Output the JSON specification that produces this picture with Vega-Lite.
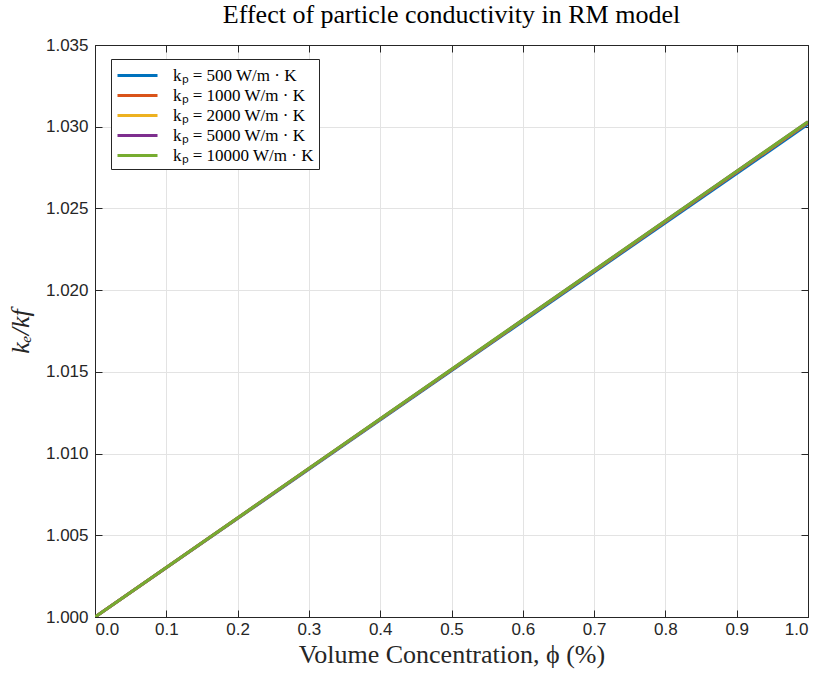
{
  "$schema": "https://vega.github.io/schema/vega-lite/v6.json",
  "width": 713,
  "height": 572,
  "autosize": {"type": "none"},
  "padding": {"left": 95, "top": 45, "right": 14, "bottom": 65},
  "background": "white",
  "title": {"text": "Effect of particle conductivity in RM model", "font": "Liberation Serif", "fontSize": 26, "fontWeight": "normal", "color": "#000000", "offset": 8, "anchor": "middle"},
  "config": {
    "view": {"stroke": "#262626", "strokeWidth": 1},
    "axis": {"labelFont": "Liberation Sans", "labelFontSize": 17, "labelColor": "#262626", "gridColor": "#e3e3e3", "gridWidth": 1, "domainColor": "#262626", "tickColor": "#262626", "tickSize": -7, "titleFont": "Liberation Serif", "titleFontWeight": "normal", "titleColor": "#262626", "titleFontSize": 26}
  },
  "data": {"values": [
    {"phi": 0, "ratio": 1.0, "series": "k\u209a = 500 W/m \u00b7 K"},
    {"phi": 1, "ratio": 1.03015, "series": "k\u209a = 500 W/m \u00b7 K"},
    {"phi": 0, "ratio": 1.0, "series": "k\u209a = 1000 W/m \u00b7 K"},
    {"phi": 1, "ratio": 1.03024, "series": "k\u209a = 1000 W/m \u00b7 K"},
    {"phi": 0, "ratio": 1.0, "series": "k\u209a = 2000 W/m \u00b7 K"},
    {"phi": 1, "ratio": 1.03028, "series": "k\u209a = 2000 W/m \u00b7 K"},
    {"phi": 0, "ratio": 1.0, "series": "k\u209a = 5000 W/m \u00b7 K"},
    {"phi": 1, "ratio": 1.0303, "series": "k\u209a = 5000 W/m \u00b7 K"},
    {"phi": 0, "ratio": 1.0, "series": "k\u209a = 10000 W/m \u00b7 K"},
    {"phi": 1, "ratio": 1.03031, "series": "k\u209a = 10000 W/m \u00b7 K"}
  ]},
  "layer": [
    {
      "mark": {"type": "line", "strokeWidth": 3, "clip": true},
      "encoding": {
        "x": {"field": "phi", "type": "quantitative", "scale": {"domain": [0, 1], "nice": false, "zero": false},
              "axis": {"values": [0, 0.1, 0.2, 0.3, 0.4, 0.5, 0.6, 0.7, 0.8, 0.9, 1.0], "format": ".1f", "title": "Volume Concentration, \u03d5 (%)", "titlePadding": 4, "labelPadding": 11}},
        "y": {"field": "ratio", "type": "quantitative", "scale": {"domain": [1.0, 1.035], "nice": false, "zero": false},
              "axis": {"values": [1.0, 1.005, 1.01, 1.015, 1.02, 1.025, 1.03, 1.035], "format": ".3f", "title": "k\u2091/kf", "titleFontStyle": "italic", "titlePadding": 12, "labelPadding": 14}},
        "color": {"field": "series", "type": "nominal",
                  "sort": ["k\u209a = 500 W/m \u00b7 K", "k\u209a = 1000 W/m \u00b7 K", "k\u209a = 2000 W/m \u00b7 K", "k\u209a = 5000 W/m \u00b7 K", "k\u209a = 10000 W/m \u00b7 K"],
                  "scale": {"range": ["#0072BD", "#D95319", "#EDB120", "#7E2F8E", "#77AC30"]},
                  "legend": {"title": null, "orient": "none", "legendX": 16, "legendY": 14, "symbolType": "M-1,0H3", "symbolSize": 400, "symbolStrokeWidth": 3, "symbolFillColor": "transparent", "labelFont": "Liberation Serif", "labelFontSize": 17, "labelColor": "#000000", "fillColor": "white", "strokeColor": "#262626", "padding": 5, "rowPadding": 0, "labelOffset": 34}}
      }
    },
    {
      "mark": {"type": "line", "opacity": 0},
      "encoding": {
        "x": {"field": "phi", "type": "quantitative", "scale": {"domain": [0, 1], "nice": false, "zero": false},
              "axis": {"orient": "top", "values": [0, 0.1, 0.2, 0.3, 0.4, 0.5, 0.6, 0.7, 0.8, 0.9, 1.0], "labels": false, "title": null, "grid": false}},
        "y": {"field": "ratio", "type": "quantitative", "scale": {"domain": [1.0, 1.035], "nice": false, "zero": false},
              "axis": {"orient": "right", "values": [1.0, 1.005, 1.01, 1.015, 1.02, 1.025, 1.03, 1.035], "labels": false, "title": null, "grid": false}}
      }
    }
  ],
  "resolve": {"axis": {"x": "independent", "y": "independent"}}
}
